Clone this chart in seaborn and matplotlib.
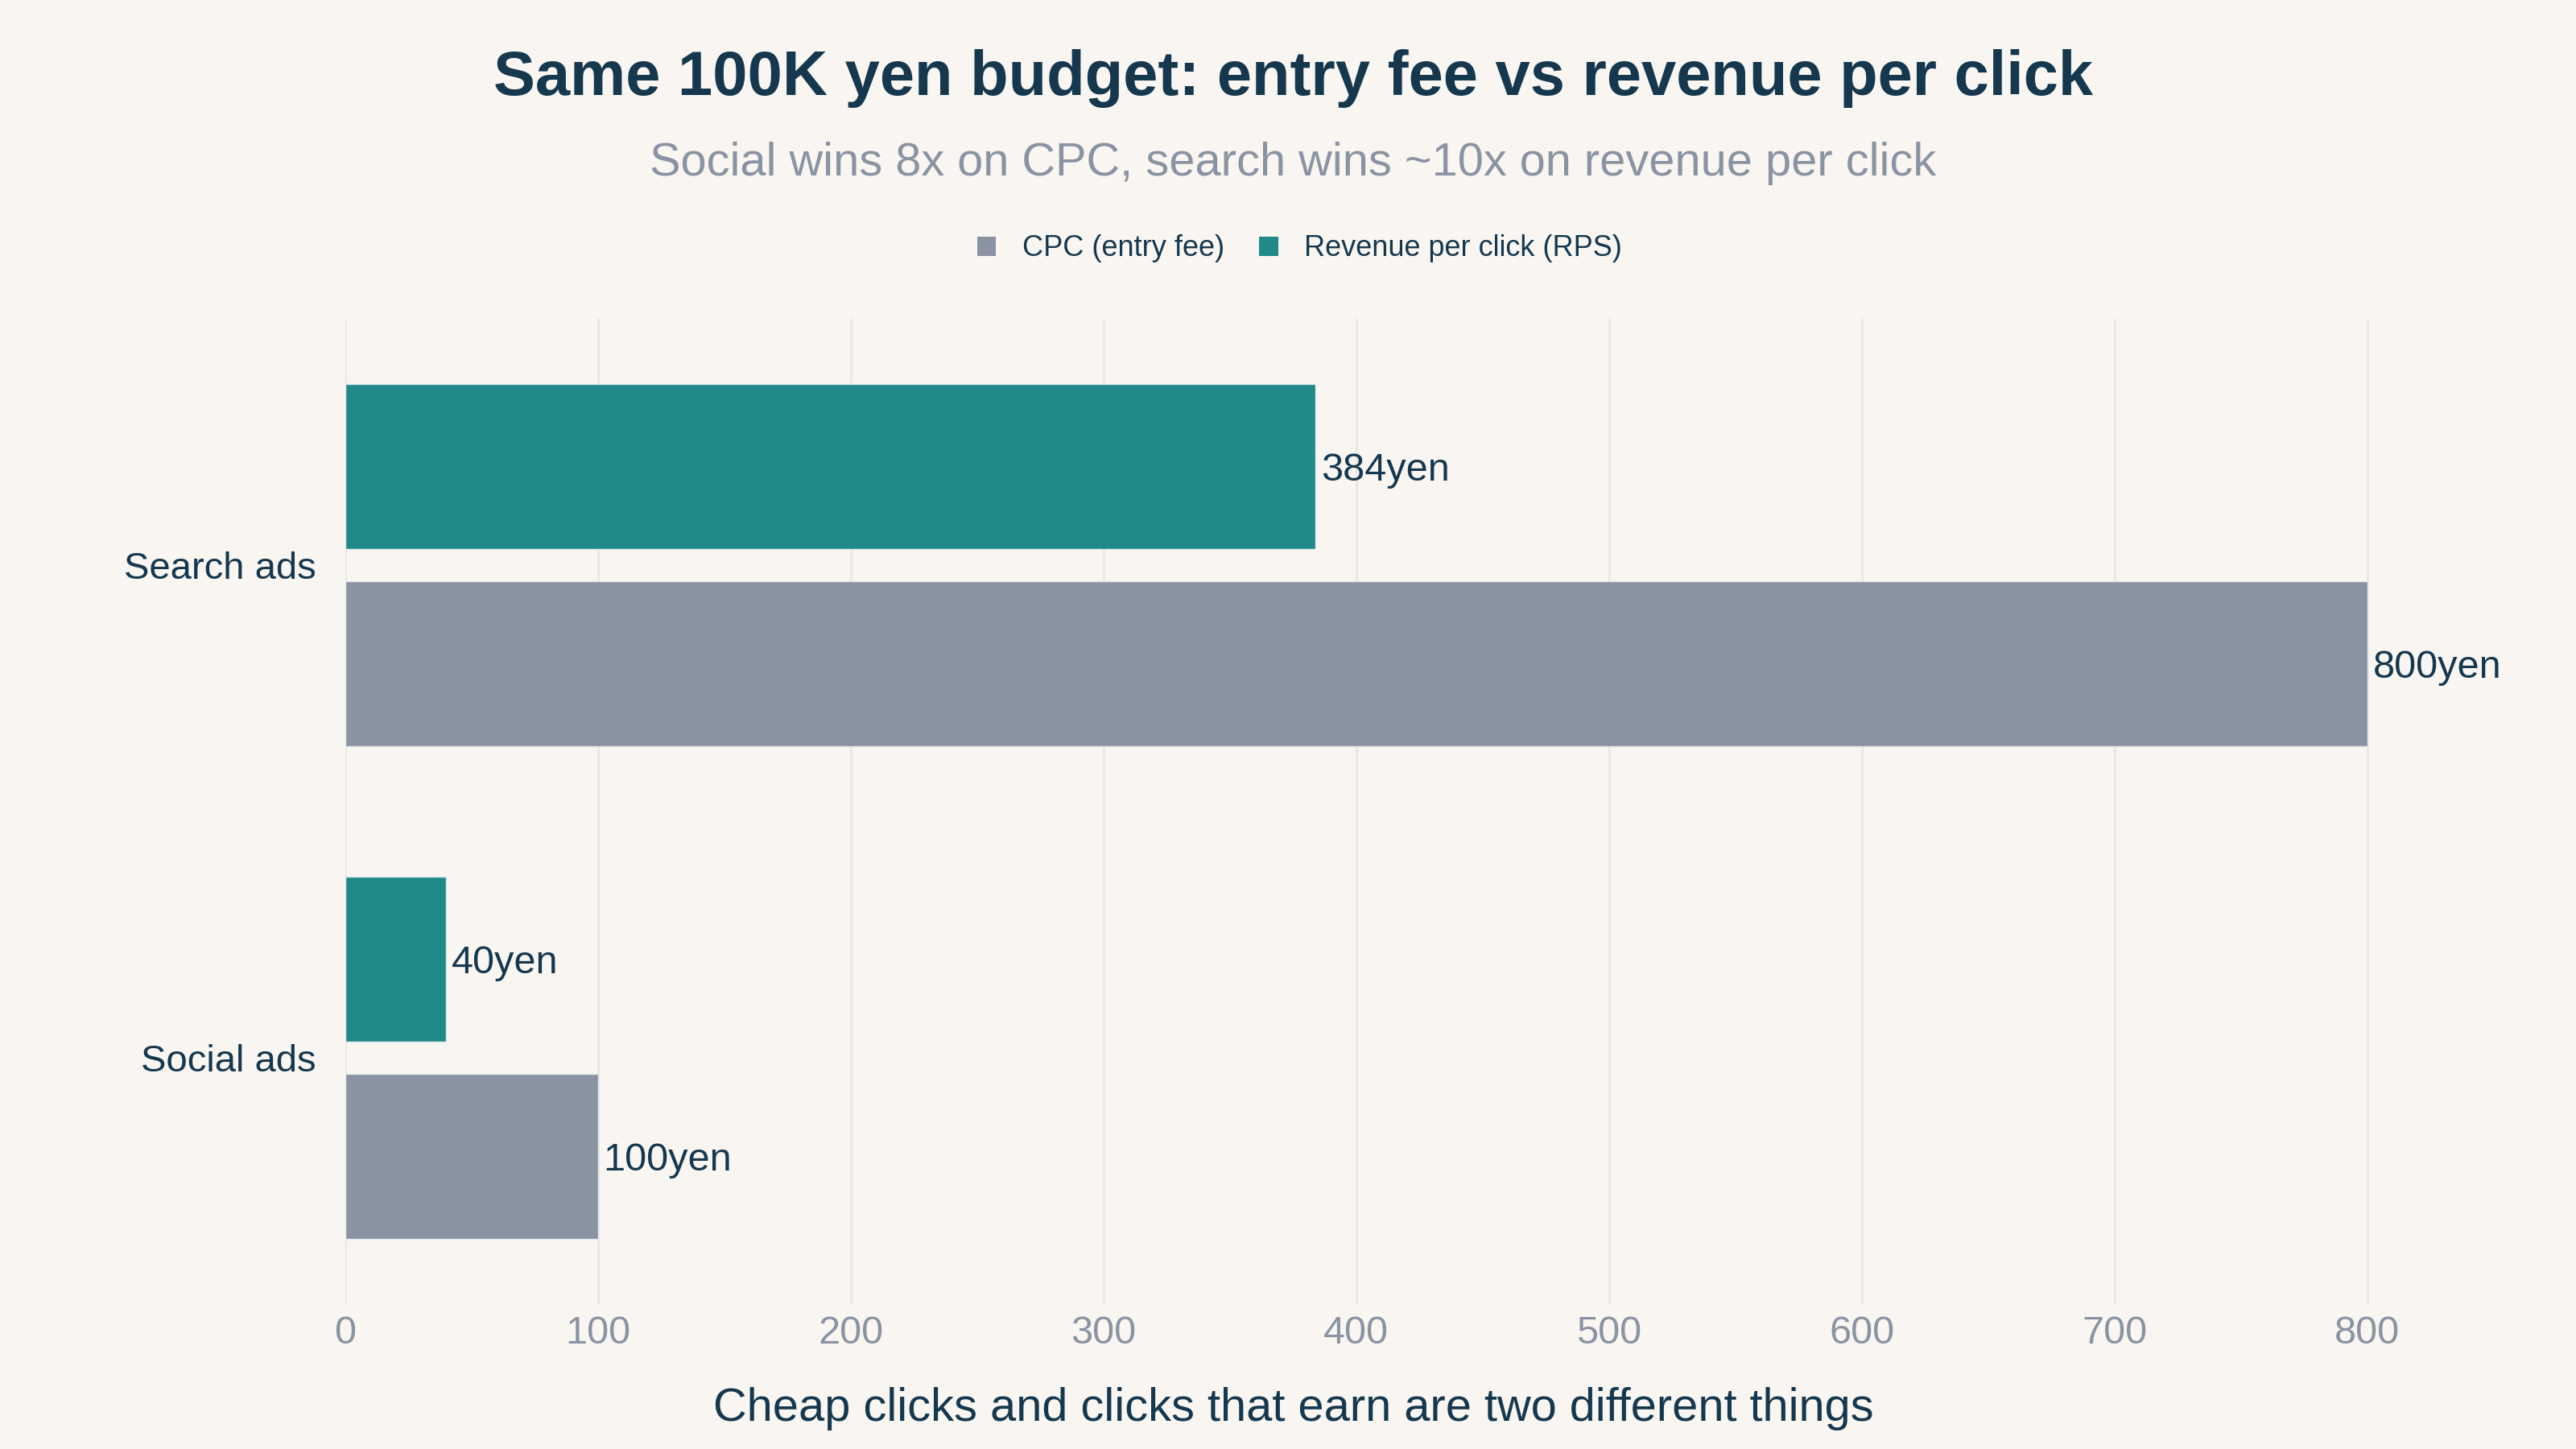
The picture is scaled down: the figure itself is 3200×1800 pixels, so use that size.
import pandas as pd
import matplotlib.pyplot as plt
import seaborn as sns
from matplotlib.patches import Patch

# Data
channels = ['Search ads', 'Social ads']
cpc_values = [800, 100]
rps_values = [384, 40]
series_names = ['CPC (entry fee)', 'Revenue per click (RPS)']
x_ticks = [0, 100, 200, 300, 400, 500, 600, 700, 800]

# Colours
BG = '#F9F6F2'
NAVY = '#15384F'
GREY = '#8A93A2'
TEAL = '#1F8A89'
GRID = '#EAE6E1'

df = pd.DataFrame({
    'channel': channels * 2,
    'metric': [series_names[0]] * len(channels) + [series_names[1]] * len(channels),
    'value': cpc_values + rps_values,
})

sns.set_theme(style='white')
plt.rcParams['font.family'] = ['Liberation Sans', 'DejaVu Sans']

fig = plt.figure(figsize=(16, 9), dpi=200, facecolor=BG)
ax = fig.add_axes([0.134, 0.1, 0.835, 0.68])
ax.set_facecolor(BG)

palette = {series_names[0]: GREY, series_names[1]: TEAL}
sns.barplot(data=df, y='channel', x='value', hue='metric',
            order=channels, hue_order=[series_names[1], series_names[0]],
            palette=palette, saturation=1, orient='h', width=0.8, gap=0.16,
            edgecolor='#E4E8EC', linewidth=0.5, legend=False, ax=ax)

# Value labels outside the bars
for cont in ax.containers:
    labels = ax.bar_label(cont, fmt='{:.0f}yen', padding=2.5, fontsize=17.5, color=NAVY)
    for t in labels:
        t.set_va('center_baseline')

ax.set_xlim(0, 851)
ax.set_ylim(1.5, -0.5)
ax.set_xticks(x_ticks)
ax.grid(axis='x', color=GRID, linewidth=1.0)
ax.grid(axis='y', visible=False)
ax.set_axisbelow(True)
for s in ax.spines.values():
    s.set_visible(False)
ax.tick_params(axis='x', length=0, pad=5, labelsize=17.5, labelcolor=GREY)
ax.tick_params(axis='y', length=0, pad=13, labelsize=17, labelcolor=NAVY)
ax.set_xlabel('')
ax.set_ylabel('')

# Titles
fig.text(0.502, 0.946, 'Same 100K yen budget: entry fee vs revenue per click',
         ha='center', va='center', fontsize=28, fontweight='bold', color=NAVY)
fig.text(0.502, 0.887, 'Social wins 8x on CPC, search wins ~10x on revenue per click',
         ha='center', va='center', fontsize=20.8, color=GREY)
fig.text(0.502, 0.028, 'Cheap clicks and clicks that earn are two different things',
         ha='center', va='center', fontsize=20.8, color=NAVY)

# Legend
handles = [Patch(facecolor=GREY, edgecolor='none'), Patch(facecolor=TEAL, edgecolor='none')]
fig.legend(handles, series_names, loc='center', bbox_to_anchor=(0.5045, 0.8284),
           ncol=2, frameon=False, fontsize=13, labelcolor=NAVY,
           handlelength=0.65, handleheight=0.65, handletextpad=0.9, columnspacing=1.2)

fig.savefig('out.png', dpi=200, facecolor=BG)
